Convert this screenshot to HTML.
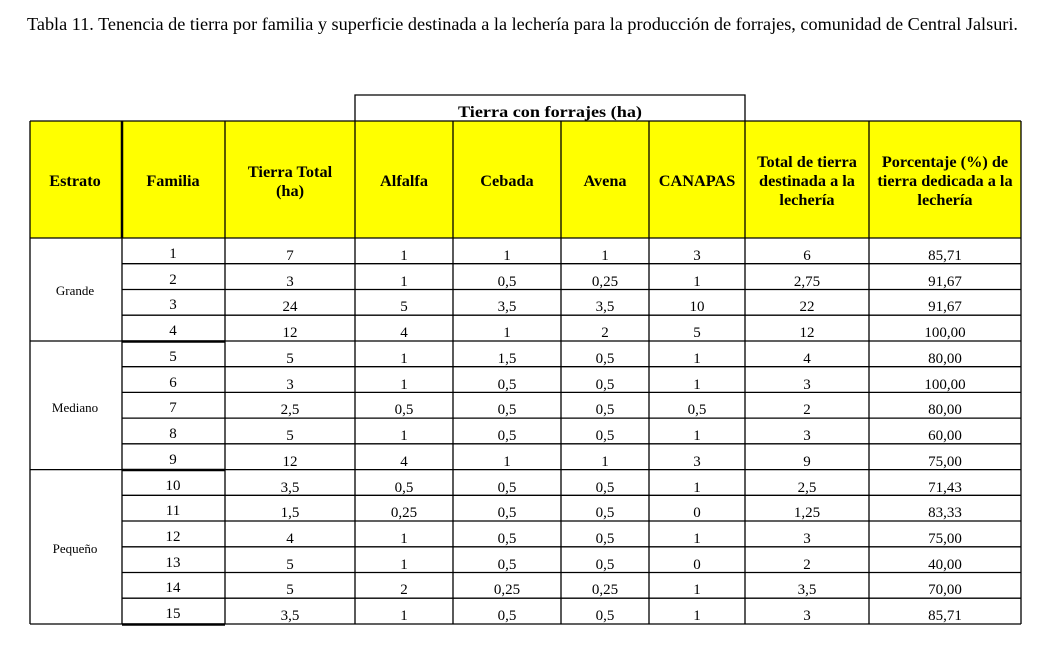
<!DOCTYPE html>
<html><head><meta charset="utf-8"><style>
html,body{margin:0;padding:0;background:#fff;width:1039px;height:664px;overflow:hidden}
svg text{font-family:"Liberation Serif",serif;font-size:15px;fill:#000}
.h{font-weight:bold;font-size:16.3px}
.c text{text-anchor:middle}
</style></head><body>
<svg width="1039" height="664" xmlns="http://www.w3.org/2000/svg">
<text x="27" y="30" style="font-size:17.5px" textLength="991" lengthAdjust="spacingAndGlyphs">Tabla 11. Tenencia de tierra por familia y superficie destinada a la lechería para la producción de forrajes, comunidad de Central Jalsuri.</text>
<rect x="30" y="121" width="991" height="117" fill="#ffff00"/>
<g stroke="#000" stroke-width="1.3" fill="none">
<path d="M355 121V95H745V121"/>
<path d="M30 121H1021M30 238H1021M30 624H1021"/>
<path d="M30 121V624M225 121V624M355 121V624M453 121V624M561 121V624M649 121V624M745 121V624M869 121V624M1021 121V624"/>
<path d="M30 341H122M30 469.6H122"/>
<path d="M122 263.7H1021M122 289.5H1021M122 315.2H1021M122 341H1021M122 366.7H1021M122 392.4H1021M122 418.1H1021M122 443.8H1021M122 469.6H1021M122 495.3H1021M122 521H1021M122 546.8H1021M122 572.5H1021M122 598.2H1021"/>
</g>
<path d="M122 121V238" stroke="#000" stroke-width="2.5"/>
<path d="M122 238V624" stroke="#000" stroke-width="1.3"/>
<path d="M122 341.5H225M122 470H225M122 624.5H225" stroke="#000" stroke-width="2.5"/>
<g class="c">
<text class="h" x="550" y="117" textLength="184" lengthAdjust="spacingAndGlyphs">Tierra con forrajes (ha)</text>
<text class="h" x="75" y="186">Estrato</text>
<text class="h" x="173" y="186">Familia</text>
<text class="h" x="290" y="177">Tierra Total</text><text class="h" x="290" y="196">(ha)</text>
<text class="h" x="404" y="186">Alfalfa</text>
<text class="h" x="507" y="186">Cebada</text>
<text class="h" x="605" y="186">Avena</text>
<text class="h" x="697" y="186">CANAPAS</text>
<text class="h" x="807" y="167">Total de tierra</text><text class="h" x="807" y="186">destinada a la</text><text class="h" x="807" y="205">lechería</text>
<text class="h" x="945" y="167">Porcentaje (%) de</text><text class="h" x="945" y="186">tierra dedicada a la</text><text class="h" x="945" y="205">lechería</text>
<text x="75" y="295" style="font-size:13px">Grande</text>
<text x="75" y="412" style="font-size:13px">Mediano</text>
<text x="75" y="553" style="font-size:13px">Pequeño</text>
</g>
<g class="c">
<text x="173" y="258">1</text><text x="173" y="284">2</text><text x="173" y="309">3</text><text x="173" y="335">4</text><text x="173" y="361">5</text><text x="173" y="387">6</text><text x="173" y="412">7</text><text x="173" y="438">8</text><text x="173" y="464">9</text><text x="173" y="490">10</text><text x="173" y="515">11</text><text x="173" y="541">12</text><text x="173" y="567">13</text><text x="173" y="592">14</text><text x="173" y="618">15</text>
</g>
<g class="c">
<text x="290" y="260">7</text><text x="404" y="260">1</text><text x="507" y="260">1</text><text x="605" y="260">1</text><text x="697" y="260">3</text><text x="807" y="260">6</text><text x="945" y="260">85,71</text>
<text x="290" y="286">3</text><text x="404" y="286">1</text><text x="507" y="286">0,5</text><text x="605" y="286">0,25</text><text x="697" y="286">1</text><text x="807" y="286">2,75</text><text x="945" y="286">91,67</text>
<text x="290" y="311">24</text><text x="404" y="311">5</text><text x="507" y="311">3,5</text><text x="605" y="311">3,5</text><text x="697" y="311">10</text><text x="807" y="311">22</text><text x="945" y="311">91,67</text>
<text x="290" y="337">12</text><text x="404" y="337">4</text><text x="507" y="337">1</text><text x="605" y="337">2</text><text x="697" y="337">5</text><text x="807" y="337">12</text><text x="945" y="337">100,00</text>
<text x="290" y="363">5</text><text x="404" y="363">1</text><text x="507" y="363">1,5</text><text x="605" y="363">0,5</text><text x="697" y="363">1</text><text x="807" y="363">4</text><text x="945" y="363">80,00</text>
<text x="290" y="389">3</text><text x="404" y="389">1</text><text x="507" y="389">0,5</text><text x="605" y="389">0,5</text><text x="697" y="389">1</text><text x="807" y="389">3</text><text x="945" y="389">100,00</text>
<text x="290" y="414">2,5</text><text x="404" y="414">0,5</text><text x="507" y="414">0,5</text><text x="605" y="414">0,5</text><text x="697" y="414">0,5</text><text x="807" y="414">2</text><text x="945" y="414">80,00</text>
<text x="290" y="440">5</text><text x="404" y="440">1</text><text x="507" y="440">0,5</text><text x="605" y="440">0,5</text><text x="697" y="440">1</text><text x="807" y="440">3</text><text x="945" y="440">60,00</text>
<text x="290" y="466">12</text><text x="404" y="466">4</text><text x="507" y="466">1</text><text x="605" y="466">1</text><text x="697" y="466">3</text><text x="807" y="466">9</text><text x="945" y="466">75,00</text>
<text x="290" y="492">3,5</text><text x="404" y="492">0,5</text><text x="507" y="492">0,5</text><text x="605" y="492">0,5</text><text x="697" y="492">1</text><text x="807" y="492">2,5</text><text x="945" y="492">71,43</text>
<text x="290" y="517">1,5</text><text x="404" y="517">0,25</text><text x="507" y="517">0,5</text><text x="605" y="517">0,5</text><text x="697" y="517">0</text><text x="807" y="517">1,25</text><text x="945" y="517">83,33</text>
<text x="290" y="543">4</text><text x="404" y="543">1</text><text x="507" y="543">0,5</text><text x="605" y="543">0,5</text><text x="697" y="543">1</text><text x="807" y="543">3</text><text x="945" y="543">75,00</text>
<text x="290" y="569">5</text><text x="404" y="569">1</text><text x="507" y="569">0,5</text><text x="605" y="569">0,5</text><text x="697" y="569">0</text><text x="807" y="569">2</text><text x="945" y="569">40,00</text>
<text x="290" y="594">5</text><text x="404" y="594">2</text><text x="507" y="594">0,25</text><text x="605" y="594">0,25</text><text x="697" y="594">1</text><text x="807" y="594">3,5</text><text x="945" y="594">70,00</text>
<text x="290" y="620">3,5</text><text x="404" y="620">1</text><text x="507" y="620">0,5</text><text x="605" y="620">0,5</text><text x="697" y="620">1</text><text x="807" y="620">3</text><text x="945" y="620">85,71</text>
</g>
</svg>
</body></html>
